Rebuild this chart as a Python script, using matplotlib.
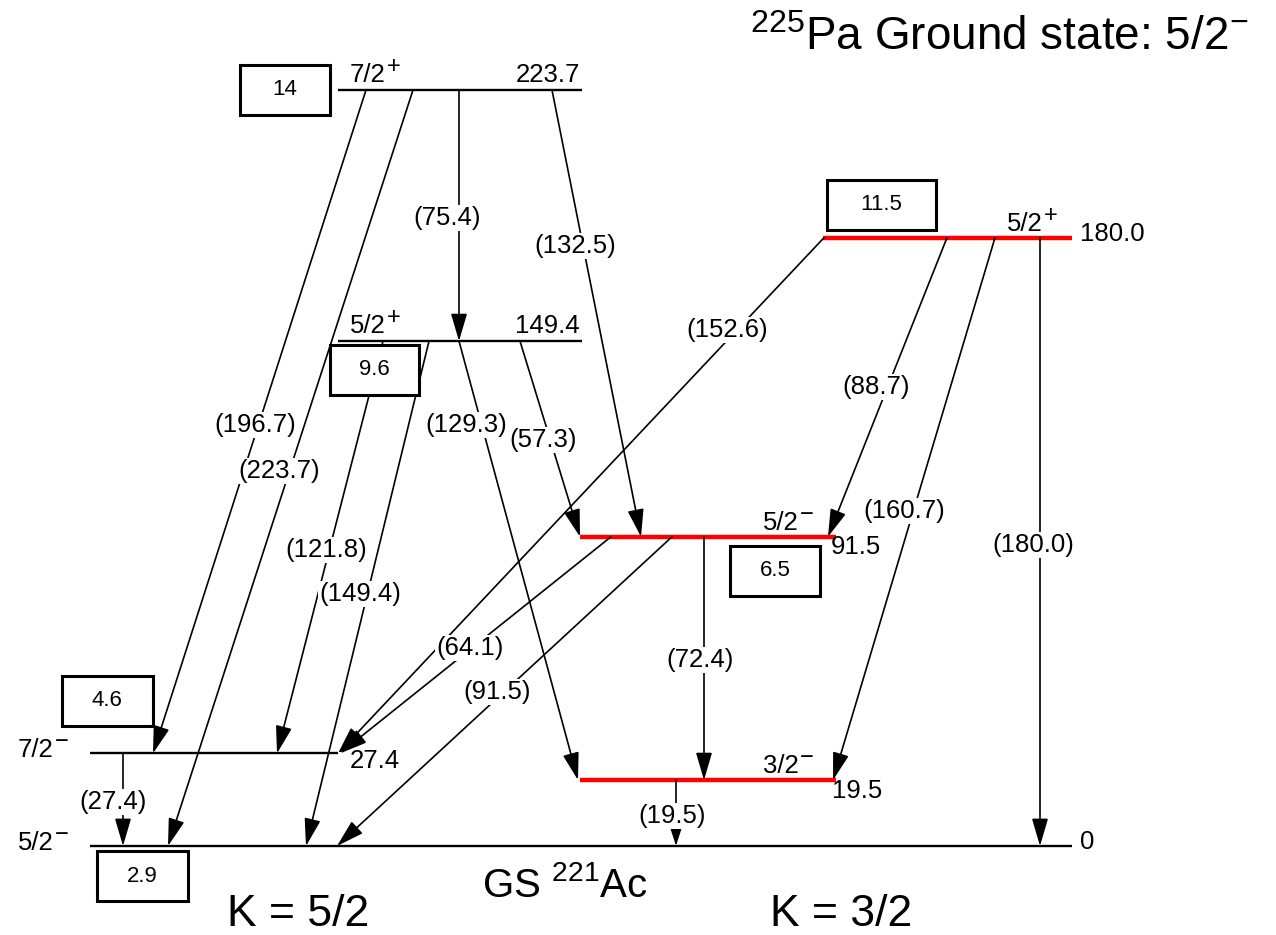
import matplotlib
matplotlib.use('Agg')
import matplotlib.pyplot as plt
from matplotlib.patches import Rectangle, FancyArrowPatch, ArrowStyle

plt.rcParams['font.family'] = ['Liberation Sans', 'DejaVu Sans']
plt.rcParams['mathtext.fontset'] = 'custom'
plt.rcParams['mathtext.rm'] = 'Liberation Sans'
plt.rcParams['mathtext.it'] = 'Liberation Sans:italic'
plt.rcParams['mathtext.bf'] = 'Liberation Sans:bold'

# levels of 221Ac (keV)
level_energy = [0.0, 19.5, 27.4, 91.5, 149.4, 180.0, 223.7]
level_spin = ['5/2', '3/2', '7/2', '5/2', '5/2', '5/2', '7/2']
level_parity = ['\u2212', '\u2212', '\u2212', '\u2212', '+', '+', '+']
level_text = ['0', '19.5', '27.4', '91.5', '149.4', '180.0', '223.7']
level_red = [False, True, False, True, False, True, False]
level_box = ['2.9', None, '4.6', '6.5', '9.6', '11.5', '14']

# gamma transitions
gamma_from = [223.7, 223.7, 223.7, 223.7, 149.4, 149.4, 149.4, 149.4,
              180.0, 180.0, 180.0, 180.0, 91.5, 91.5, 91.5, 27.4, 19.5]
gamma_to = [27.4, 0.0, 149.4, 91.5, 27.4, 0.0, 19.5, 91.5,
            27.4, 91.5, 19.5, 0.0, 27.4, 0.0, 19.5, 0.0, 0.0]
gamma_label = ['(196.7)', '(223.7)', '(75.4)', '(132.5)', '(121.8)', '(149.4)', '(129.3)', '(57.3)',
               '(152.6)', '(88.7)', '(160.7)', '(180.0)', '(64.1)', '(91.5)', '(72.4)', '(27.4)', '(19.5)']

# ---- layout (pixels) ----
W, H = 1276, 935
Y0, PX_PER_KEV = 846, 3.3795


def py(y):
    # pixel row -> energy axis
    return (Y0 - y) / PX_PER_KEV


level_x = [(90, 1072), (580, 836), (90, 338), (580, 836), (338, 582), (823, 1072), (338, 582)]
spin_pos = [(18, 850), (763, 773), (18, 757), (763, 530), (350, 333), (1007, 231), (350, 82)]
text_pos = [(1080, 849, 'left'), (832, 798, 'left'), (350, 768, 'left'), (831, 554, 'left'),
            (580, 333, 'right'), (1080, 241, 'left'), (580, 82, 'right')]
box_pos = [(142, 876, 91), None, (107, 701, 91), (775, 571, 90), (374, 370, 89), (881, 205, 109), (285, 90, 90)]

gamma_x = [(366, 153), (413, 168), (459, 459), (552, 641), (383, 277), (429, 306), (459, 578), (520, 580),
           (824, 338), (947, 828), (995, 833), (1040, 1040), (611, 340), (672, 337), (704, 704), (123, 123), (676, 676)]
label_pos = [(255, 425), (279, 471), (447, 218), (575, 246), (326, 550), (360, 594), (466, 425), (543, 440),
             (727, 330), (876, 387), (904, 511), (1033, 545), (470, 648), (497, 692), (700, 660), (113, 802), (672, 816)]

fig = plt.figure(figsize=(W / 100, H / 100), dpi=100)
ax = fig.add_axes([0, 0, 1, 1])
ax.set_xlim(0, W)
ax.set_ylim(py(H), py(0))
ax.axis('off')

# levels
for i, e in enumerate(level_energy):
    x0, x1 = level_x[i]
    if level_red[i]:
        ax.plot([x0, x1], [e, e], color='#ff0000', lw=3.2, solid_capstyle='butt', zorder=3)
    else:
        ax.plot([x0, x1], [e, e], color='black', lw=1.7, solid_capstyle='butt', zorder=3)
    sx, sy = spin_pos[i]
    t = ax.text(sx, py(sy), level_spin[i], fontsize=18.5, ha='left', va='baseline', zorder=6)
    ax.annotate(level_parity[i], xy=(1.0, 0.0), xycoords=t, xytext=(0.5, 10),
                textcoords='offset points', fontsize=17, ha='left', va='baseline', zorder=6)
    tx, ty, tha = text_pos[i]
    ax.text(tx, py(ty), level_text[i], fontsize=18.5, ha=tha, va='baseline', zorder=6)

# transitions
for i in range(len(gamma_from)):
    x0, x1 = gamma_x[i]
    small = gamma_from[i] - gamma_to[i] < 20
    style = ArrowStyle('-|>', head_length=11 if small else 17, head_width=3.5 if small else 5)
    arr = FancyArrowPatch((x0, gamma_from[i]), (x1, gamma_to[i]), arrowstyle=style,
                          mutation_scale=1, shrinkA=0, shrinkB=0, lw=1.2,
                          color='black', zorder=4)
    ax.add_patch(arr)
    lx, ly = label_pos[i]
    ax.text(lx, py(ly), gamma_label[i], fontsize=18.5, ha='center', va='center', zorder=5,
            bbox=dict(boxstyle='square,pad=0.05', fc='white', ec='none'))

# boxed numbers
bh = 50 / PX_PER_KEV
for i, b in enumerate(level_box):
    if b is None:
        continue
    cx, cy, bw = box_pos[i]
    ax.add_patch(Rectangle((cx - bw / 2, py(cy) - bh / 2), bw, bh, fc='white', ec='black',
                           lw=2.2, zorder=7))
    ax.text(cx, py(cy), b, fontsize=16, ha='center', va='center', zorder=8)

ax.text(750, py(50), '$^{225}$Pa Ground state: 5/2$^{-}$', fontsize=33, ha='left', va='baseline')
ax.text(482, py(897), 'GS $^{221}$Ac', fontsize=29, ha='left', va='baseline')
ax.text(227, py(926), 'K = 5/2', fontsize=32, ha='left', va='baseline')
ax.text(770, py(926), 'K = 3/2', fontsize=32, ha='left', va='baseline')

fig.savefig('out.png', dpi=100)
